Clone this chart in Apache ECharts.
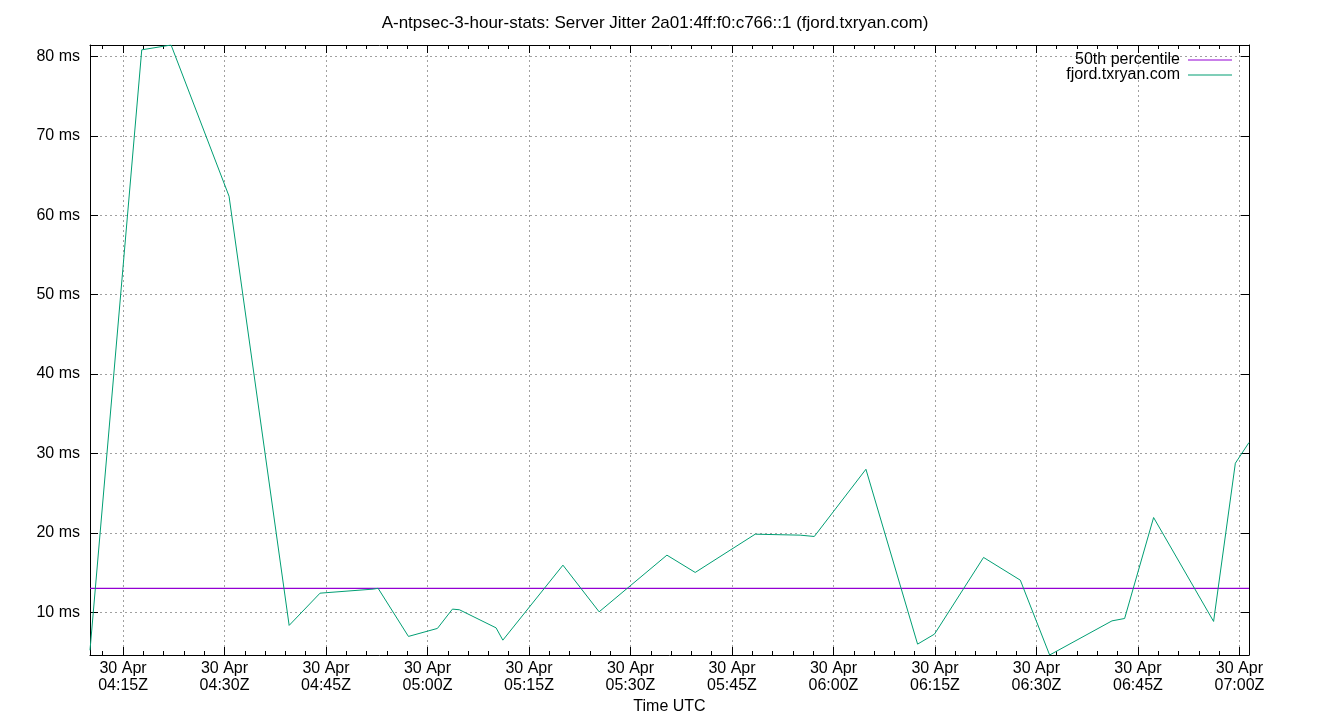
<!DOCTYPE html>
<html><head><meta charset="utf-8">
<script src="https://cdn.jsdelivr.net/npm/echarts@6/dist/echarts.min.js"></script>
<style>html,body{margin:0;padding:0;background:#fff}#c{width:1340px;height:720px}</style>
</head><body><div id="c"></div>
<script>
const day = '2024-04-30';
const times = ['04:10:07','04:17:46','04:22:06','04:30:40','04:39:33','04:44:07','04:51:58','04:52:42',
  '04:57:11','05:01:28','05:03:41','05:04:43','05:10:08','05:11:08','05:20:01','05:25:22','05:35:23',
  '05:39:34','05:48:26','05:55:05','05:57:10','06:04:48','06:12:26','06:14:56','06:22:11','06:27:37',
  '06:31:57','06:41:10','06:43:02','06:47:19','06:56:11','06:59:24','07:01:25'];
const jitter = [5.2,80.84,81.45,62.4,8.33,12.39,12.9,13.0,6.94,7.95,10.38,10.3,8.02,6.47,15.92,10.04,17.18,
  15.0,19.82,19.7,19.53,28.0,5.97,7.23,16.89,14.03,4.6,8.9,9.2,21.92,8.83,28.76,31.37];
const percentile50 = 13.0;
const xTickLabels = ['04:15','04:30','04:45','05:00','05:15','05:30','05:45','06:00','06:15','06:30','06:45','07:00'];
const yTicks = [10,20,30,40,50,60,70,80];
const titleText = 'A-ntpsec-3-hour-stats: Server Jitter 2a01:4ff:f0:c766::1 (fjord.txryan.com)';

const ts = t => Date.parse(day + 'T' + (t.length === 5 ? t + ':00' : t) + 'Z');
const xs = times.map(ts);
const xmin = xs[0], xmax = xs[xs.length - 1];
const ymin = Math.min(...jitter), ymax = Math.max(...jitter);
const xMajor = xTickLabels.map(ts);
const xMinor = [];
for (let t = xMajor[0] - 3 * 60000; t <= xmax; t += 3 * 60000) { if (t >= xmin) xMinor.push(t); }

const font = 'Liberation Sans, Arial, sans-serif';
const fs = 16;
const pad = n => String(n).padStart(2, '0');
const fmtX = v => { const d = new Date(v); return '30 Apr\n' + pad(d.getUTCHours()) + ':' + pad(d.getUTCMinutes()) + 'Z'; };
const grid = { left: 90, right: 91, top: 45, bottom: 64 };
const gridLine = { show: true, lineStyle: { color: '#a0a0a0', type: [2, 3], width: 1 } };
const axLine = { show: true, onZero: false, lineStyle: { color: '#000', width: 1 } };
const legendText = { fontFamily: font, fontSize: fs, color: '#000', padding: [0, 3, 0, 0] };

const chart = echarts.init(document.getElementById('c'), null, { renderer: 'canvas' });
chart.setOption({
  animation: false,
  backgroundColor: '#fff',
  textStyle: { fontFamily: font },
  title: { text: titleText, left: 650, top: 10, textAlign: 'center',
    textStyle: { fontFamily: font, fontSize: 17, fontWeight: 'normal', color: '#000' } },
  grid: grid,
  legend: [
    { data: ['50th percentile'], right: 108, top: 52, padding: 0, orient: 'vertical', align: 'right', icon: 'rect',
      itemWidth: 44, itemHeight: 1, textStyle: legendText },
    { data: ['fjord.txryan.com'], right: 108, top: 67, padding: 0, orient: 'vertical', align: 'right', icon: 'rect',
      itemWidth: 44, itemHeight: 1, textStyle: legendText }
  ],
  xAxis: [
    { type: 'value', position: 'bottom', min: xmin, max: xmax, name: 'Time UTC', nameLocation: 'middle', nameGap: 44,
      nameTextStyle: { fontFamily: font, fontSize: fs, color: '#000' },
      axisLine: axLine, axisTick: { inside: true, length: 8, customValues: xMajor, lineStyle: { color: '#000' } },
      axisLabel: { customValues: xMajor, formatter: fmtX, fontFamily: font, fontSize: fs, color: '#000', lineHeight: 17, margin: 5 },
      splitLine: gridLine },
    { type: 'value', position: 'top', min: xmin, max: xmax,
      axisLine: axLine, axisTick: { inside: true, length: 8, customValues: xMajor, lineStyle: { color: '#000' } },
      axisLabel: { show: false }, splitLine: { show: false } },
    { type: 'value', position: 'bottom', min: xmin, max: xmax,
      axisLine: { show: false }, axisTick: { inside: true, length: 4, customValues: xMinor, lineStyle: { color: '#000' } },
      axisLabel: { show: false }, splitLine: { show: false } },
    { type: 'value', position: 'top', min: xmin, max: xmax,
      axisLine: { show: false }, axisTick: { inside: true, length: 4, customValues: xMinor, lineStyle: { color: '#000' } },
      axisLabel: { show: false }, splitLine: { show: false } }
  ],
  yAxis: [
    { type: 'value', position: 'left', min: ymin, max: ymax,
      axisLine: axLine, axisTick: { inside: true, length: 8, customValues: yTicks, lineStyle: { color: '#000' } },
      axisLabel: { customValues: yTicks, formatter: v => v + ' ms', fontFamily: font, fontSize: fs, color: '#000', margin: 10 },
      splitLine: gridLine },
    { type: 'value', position: 'right', min: ymin, max: ymax,
      axisLine: axLine, axisTick: { inside: true, length: 8, customValues: yTicks, lineStyle: { color: '#000' } },
      axisLabel: { show: false }, splitLine: { show: false } }
  ],
  series: [
    { name: '50th percentile', type: 'line', xAxisIndex: 0, yAxisIndex: 0, showSymbol: false, symbol: 'none',
      data: [[xmin, percentile50], [xmax, percentile50]], color: '#9400d3', lineStyle: { color: '#9400d3', width: 1.2 } },
    { name: 'fjord.txryan.com', type: 'line', xAxisIndex: 0, yAxisIndex: 0, showSymbol: false, symbol: 'none',
      data: xs.map((x, i) => [x, jitter[i]]), color: '#009e73', lineStyle: { color: '#009e73', width: 1 } }
  ]
});
</script>
</body></html>
